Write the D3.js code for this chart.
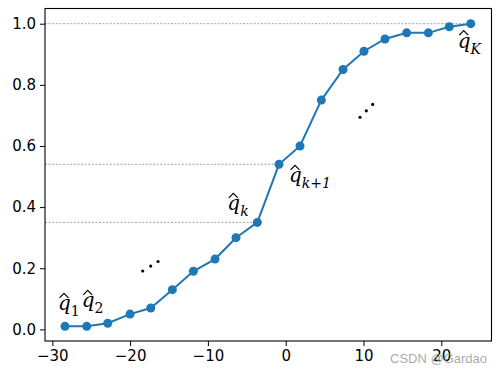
<!DOCTYPE html>
<html>
<head>
<meta charset="utf-8">
<script src="https://cdn.jsdelivr.net/npm/d3@7"></script>
<style>
  html, body { margin: 0; padding: 0; background: #fff; }
  svg { display: block; }
</style>
</head>
<body>
<div id="chart"></div>
<script>
// data
var xs = [-28.37, -25.58, -22.88, -20.01, -17.35, -14.57, -11.87, -9.09, -6.39, -3.65,
          -0.86, 1.84, 4.58, 7.37, 10.06, 12.76, 15.55, 18.33, 21.03, 23.78];
var qs = [0.01, 0.01, 0.02, 0.05, 0.07, 0.13, 0.19, 0.23, 0.30, 0.35,
          0.54, 0.60, 0.75, 0.85, 0.91, 0.95, 0.97, 0.97, 0.99, 1.00];
var xTicks = [-30, -20, -10, 0, 10, 20];
var yTicks = [0.0, 0.2, 0.4, 0.6, 0.8, 1.0];
// indices of the points with a dotted guide line
var guideIdx = [9, 10, 19];
// "..." marks
var dots1 = [[-18.38, 0.191], [-17.35, 0.207], [-16.41, 0.222]];
var dots2 = [[9.55, 0.694], [10.36, 0.715], [11.18, 0.736]];
// labels: point index, subscript, offset from point
var labels = [
  { i: 0, sub: "1", dx: -7, dy: -16 },
  { i: 1, sub: "2", dx: -5, dy: -19 },
  { i: 9, sub: "k", dx: -30, dy: -12 },
  { i: 10, sub: "k+1", dx: 10, dy: 18 },
  { i: 19, sub: "K", dx: -13, dy: 24 }
];

var width = 498, height = 372;
var margin = { left: 45, right: 6.5, top: 8.5, bottom: 31 };

var svg = d3.select("#chart").append("svg")
    .attr("width", width)
    .attr("height", height);

var x = d3.scaleLinear().domain([-30.94, 26.45]).range([margin.left, width - margin.right]);
var y = d3.scaleLinear().domain([-0.038, 1.0497]).range([height - margin.bottom, margin.top]);

// guide lines from the left spine to the point
svg.selectAll("line.guide")
   .data(guideIdx)
   .enter()
   .append("line")
   .attr("class", "guide")
   .attr("x1", margin.left)
   .attr("x2", function(i) { return x(xs[i]); })
   .attr("y1", function(i) { return y(qs[i]); })
   .attr("y2", function(i) { return y(qs[i]); })
   .attr("stroke", "#999")
   .attr("stroke-width", 0.9)
   .attr("stroke-dasharray", "2,1.6");

// curve
var pts = xs.map(function(d, i) { return [d, qs[i]]; });
svg.append("path")
   .datum(pts)
   .attr("fill", "none")
   .attr("stroke", "#1f77b4")
   .attr("stroke-width", 2)
   .attr("d", d3.line().x(function(d) { return x(d[0]); }).y(function(d) { return y(d[1]); }));

svg.selectAll("circle.pt")
   .data(pts)
   .enter()
   .append("circle")
   .attr("class", "pt")
   .attr("cx", function(d) { return x(d[0]); })
   .attr("cy", function(d) { return y(d[1]); })
   .attr("r", 4.5)
   .attr("fill", "#1f77b4");

// dots
svg.selectAll("circle.dot")
   .data(dots1.concat(dots2))
   .enter()
   .append("circle")
   .attr("class", "dot")
   .attr("cx", function(d) { return x(d[0]); })
   .attr("cy", function(d) { return y(d[1]); })
   .attr("r", 1.6)
   .attr("fill", "#000");

// labels q-hat with subscripts
var lab = svg.selectAll("g.lab")
   .data(labels)
   .enter()
   .append("g")
   .attr("class", "lab")
   .attr("transform", function(d) {
       return "translate(" + (x(xs[d.i]) + d.dx) + "," + (y(qs[d.i]) + d.dy) + ")";
   });

var t = lab.append("text")
   .attr("font-family", "'DejaVu Serif', serif")
   .attr("font-style", "italic")
   .attr("font-size", 20)
   .attr("fill", "#000");
t.append("tspan").text("q");
t.append("tspan")
   .attr("dy", 6)
   .attr("font-size", 14)
   .attr("font-style", function(d) { return /\d/.test(d.sub[0]) ? "normal" : "italic"; })
   .text(function(d) { return d.sub; });

// hat over q
lab.append("path")
   .attr("d", "M1.5,-12.5 L6,-17 L10.5,-12.5")
   .attr("fill", "none")
   .attr("stroke", "#000")
   .attr("stroke-width", 1.2);

// axes
var xAxis = svg.append("g")
   .attr("transform", "translate(0," + (height - margin.bottom) + ")")
   .call(d3.axisBottom(x).tickValues(xTicks).tickSize(5).tickPadding(4)
          .tickFormat(function(d) { return d < 0 ? "\u2212" + Math.abs(d) : d; }));
var yAxis = svg.append("g")
   .attr("transform", "translate(" + margin.left + ",0)")
   .call(d3.axisLeft(y).tickValues(yTicks).tickSize(5).tickPadding(4).tickFormat(d3.format(".1f")));

[xAxis, yAxis].forEach(function(a) {
    a.select(".domain").remove();
    a.selectAll("text").attr("font-family", "'DejaVu Sans', sans-serif").attr("font-size", 15).attr("fill", "#000");
    a.selectAll("line").attr("stroke", "#000").attr("stroke-width", 1);
});

// frame
svg.append("rect")
   .attr("x", margin.left)
   .attr("y", margin.top)
   .attr("width", width - margin.left - margin.right)
   .attr("height", height - margin.top - margin.bottom)
   .attr("fill", "none")
   .attr("stroke", "#000")
   .attr("stroke-width", 1.1);

// watermark
svg.append("text")
   .attr("x", 390)
   .attr("y", 363)
   .attr("font-family", "'Liberation Sans', Arial, sans-serif")
   .attr("font-size", 13)
   .attr("fill", "#999")
   .attr("fill-opacity", 0.85)
   .text("CSDN @Gardao");
</script>
</body>
</html>
